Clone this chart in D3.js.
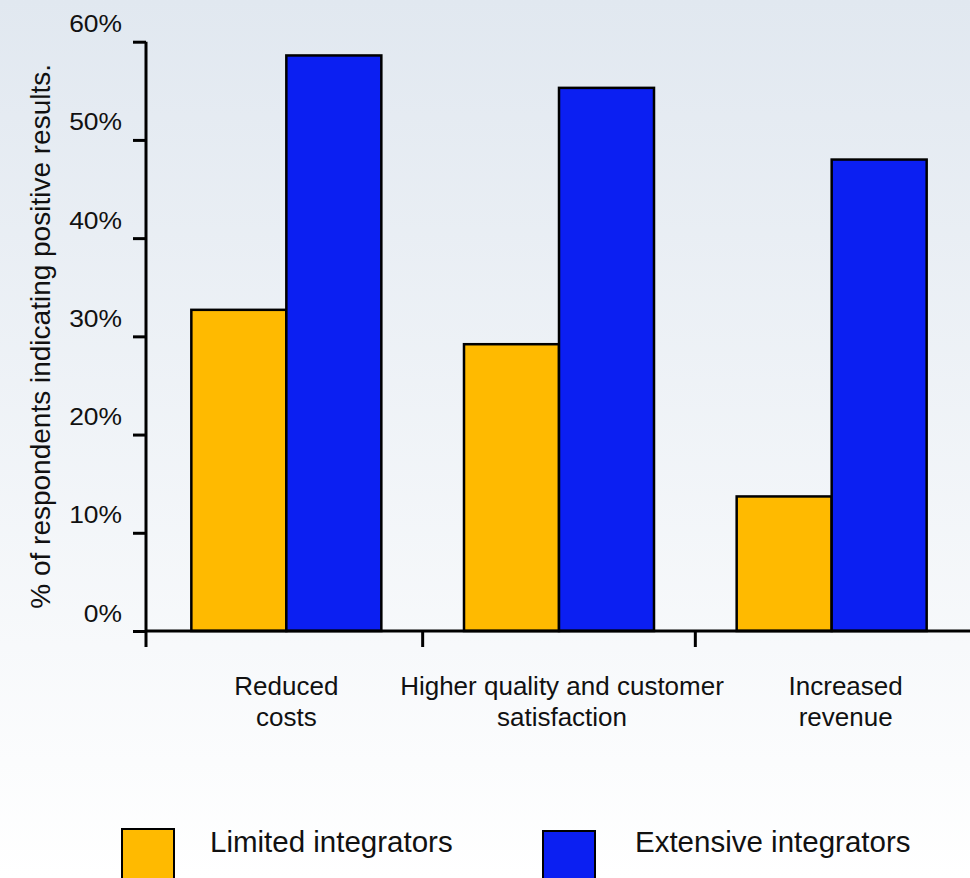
<!DOCTYPE html>
<html><head><meta charset="utf-8">
<script src="https://cdn.jsdelivr.net/npm/d3@7"></script>
<style>
body{margin:0;background:#fff;}
svg{display:block;font-family:"Liberation Sans",Arial,Helvetica,sans-serif;}
</style>
</head><body>
<svg id="chart" width="970" height="878"></svg>
<script>
// ---- data ----
const categories = [["Reduced","costs"],["Higher quality and customer","satisfaction"],["Increased","revenue"]];
const seriesNames = ["Limited integrators","Extensive integrators"];
const limitedValues = [32.7, 29.2, 13.7];
const extensiveValues = [58.6, 55.3, 48.0];
const yTickValues = [0,10,20,30,40,50,60];
const seriesColors = ["#ffba00","#0b1ff2"];
const yTitle = "% of respondents indicating positive results.";

const svg = d3.select("#chart");
const W = 970, H = 878;

// background gradient
const defs = svg.append("defs");
const grad = defs.append("linearGradient").attr("id","bg").attr("x1",0).attr("y1",0).attr("x2",0).attr("y2",1);
grad.append("stop").attr("offset","0%").attr("stop-color","#e1e8f0");
grad.append("stop").attr("offset","100%").attr("stop-color","#ffffff");
svg.append("rect").attr("width",W).attr("height",H).attr("fill","url(#bg)");

// scales
const y = d3.scaleLinear().domain([0,60]).range([631,41.7]);
const x = d3.scaleBand().domain(d3.range(categories.length)).range([150,968]).paddingInner(0).paddingOuter(0);
const inner = d3.scaleBand().domain(d3.range(seriesNames.length)).range([-95,95]);

const rows = categories.map((c,i)=>({i, vals:[limitedValues[i], extensiveValues[i]]}));

// bars
const groups = svg.append("g").selectAll("g").data(rows).join("g")
  .attr("transform", d => `translate(${x(d.i)+x.bandwidth()/2},0)`);
groups.selectAll("rect").data(d => d.vals.map((v,s)=>({v,s}))).join("rect")
  .attr("x", d => inner(d.s))
  .attr("width", inner.bandwidth())
  .attr("y", d => y(d.v))
  .attr("height", d => y(0)-y(d.v))
  .attr("fill", d => seriesColors[d.s])
  .attr("stroke","#000").attr("stroke-width",2.5);

// y axis
const yAxis = d3.axisLeft(y).tickValues(yTickValues).tickFormat(d => d+"%").tickSize(13).tickSizeOuter(0);
const gy = svg.append("g").attr("transform","translate(146,0)").call(yAxis);
gy.select(".domain").remove();
gy.selectAll(".tick line").attr("stroke","#000").attr("stroke-width",3);
gy.selectAll(".tick text")
  .attr("x",0).attr("y",0).attr("dy",null)
  .attr("transform","translate(-24,-10) scale(1.1,1)")
  .attr("text-anchor","end")
  .attr("font-size",24).attr("fill","#111")
  .attr("font-family","'Liberation Sans',Arial,sans-serif");
gy.append("line").attr("x1",0).attr("x2",0).attr("y1",y(60)).attr("y2",y(0)+16)
  .attr("stroke","#000").attr("stroke-width",3);

// x axis
const gx = svg.append("g");
gx.append("line").attr("x1",146).attr("x2",W).attr("y1",y(0)).attr("y2",y(0))
  .attr("stroke","#000").attr("stroke-width",3);
gx.selectAll("line.t").data(d3.range(1,categories.length)).join("line").attr("class","t")
  .attr("x1",d=>x(d)).attr("x2",d=>x(d)).attr("y1",y(0)).attr("y2",y(0)+16)
  .attr("stroke","#000").attr("stroke-width",3);
// small horizontal shifts of the category labels (layout only)
const catLabelShift = [0, 3, 14];
const labels = gx.selectAll("text.cat").data(categories).join("text").attr("class","cat")
  .attr("text-anchor","middle").attr("font-size",26).attr("fill","#111")
  .attr("transform",(d,i)=>`translate(${x(i)+x.bandwidth()/2+catLabelShift[i]},695)`);
labels.selectAll("tspan").data(d=>d).join("tspan")
  .attr("x",0).attr("y",(d,j)=>j*31).text(d=>d);

// y title
svg.append("text").attr("transform",`translate(50,${(y(60)+y(0))/2}) rotate(-90)`)
  .attr("text-anchor","middle").attr("font-size",28).attr("fill","#111").text(yTitle);

// legend
const legendX = [122, 543];
const legendTextX = [210, 635];
const lg = svg.append("g").selectAll("g").data(seriesNames).join("g");
lg.append("rect").attr("x",(d,i)=>legendX[i]).attr("y",(d,i)=>829+i*2)
  .attr("width",52).attr("height",52)
  .attr("fill",(d,i)=>seriesColors[i]).attr("stroke","#000").attr("stroke-width",2);
lg.append("text").attr("x",(d,i)=>legendTextX[i]).attr("y",852)
  .attr("font-size",29.5).attr("fill","#111").text(d=>d);
</script>
</body></html>
